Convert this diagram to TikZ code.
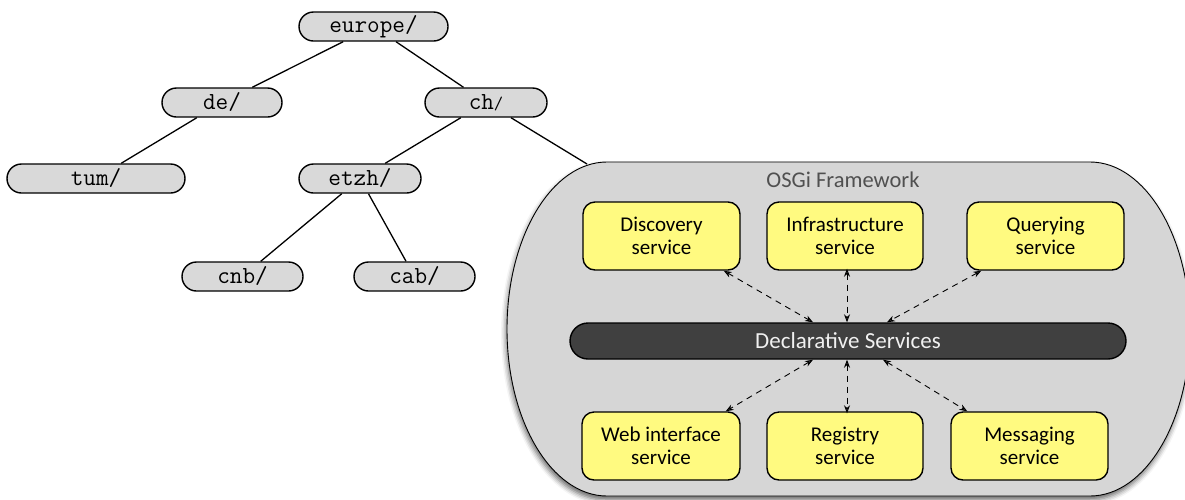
\documentclass[tikz,border=0pt]{standalone}
\usepackage{fontspec}
\setsansfont{Carlito}
\usetikzlibrary{shapes.misc,arrows.meta,shadows.blur}
\definecolor{treegray}{RGB}{217,217,217}
\definecolor{osgigray}{RGB}{214,214,214}
\definecolor{svcyellow}{RGB}{255,250,128}
\definecolor{bardark}{RGB}{64,64,64}
\definecolor{labelgray}{RGB}{80,80,80}
\tikzset{
  treenode/.style={rounded rectangle, draw=black, line width=1.4pt, fill=treegray,
    minimum height=29pt, inner sep=0pt, font=\fontsize{24.5}{25}\ttfamily},
  treeedge/.style={line width=1.3pt, draw=black},
  svcbox/.style={rectangle, rounded corners=12pt, draw=black, line width=1.4pt, fill=svcyellow,
    minimum width=156pt, minimum height=68pt, inner sep=0pt, align=center,
    font=\fontsize{21}{23.5}\sffamily},
  dsbar/.style={rounded rectangle, draw=black, line width=1.4pt, fill=bardark,
    minimum width=556pt, minimum height=36pt, inner sep=0pt, text=white!94!black,
    font=\fontsize{23}{24}\sffamily},
  dsarrow/.style={line width=0.9pt, dash pattern=on 6pt off 5pt,
    {Stealth[length=8pt,width=6pt]}-{Stealth[length=8pt,width=6pt]}},
}
\begin{document}
\begin{tikzpicture}[x=1pt,y=-1pt]
\useasboundingbox (0,0) rectangle (1185,499);
\clip (0,0) rectangle (1185,499);
% OSGi framework container
\path[fill=osgigray, draw=black, line width=0.9pt,
  blur shadow={shadow xshift=-1pt, shadow yshift=-4pt, shadow blur radius=5pt, shadow opacity=60}]
  (607,162) -- (1090,162)
  .. controls (1145.2,162) and (1190,236.8) .. (1190,329)
  .. controls (1190,421.2) and (1145.2,496) .. (1090,496)
  -- (607,496)
  .. controls (551.8,496) and (507,421.2) .. (507,329)
  .. controls (507,236.8) and (551.8,162) .. (607,162) -- cycle;
\coordinate (osgiedge) at (587,164);
\node[font=\fontsize{22.5}{24}\sffamily, text=labelgray] (osgilabel) at (843,180) {OSGi Framework};

% tree
\node[treenode, minimum width=149pt] (europe) at (373.5,26.5) {europe/};
\node[treenode, minimum width=120pt] (de) at (222,102.5) {de/};
\node[treenode, minimum width=122pt] (ch) at (486,102.5) {ch{\fontsize{18}{18}\selectfont/}};
\node[treenode, minimum width=178pt] (tum) at (96,178.5) {tum/};
\node[treenode, minimum width=122pt] (etzh) at (360,178.5) {etzh/};
\node[treenode, minimum width=121pt] (cnb) at (242.5,276.5) {cnb/};
\node[treenode, minimum width=121pt] (cab) at (414.5,276.5) {cab/};
\draw[treeedge] (europe) -- (de);
\draw[treeedge] (europe) -- (ch);
\draw[treeedge] (de) -- (tum);
\draw[treeedge] (ch) -- (etzh);
\draw[treeedge] (ch) -- (osgiedge);
\draw[treeedge] (etzh) -- (cnb);
\draw[treeedge] (etzh) -- (cab);

% services
\node[svcbox, minimum width=157pt] (disc) at (661.5,236) {Discovery\\service};
\node[svcbox] (infra) at (845,236) {Infrastructure\\service};
\node[svcbox, minimum width=157pt] (query) at (1045.5,236) {Querying\\service};
\node[svcbox, minimum width=158pt] (web) at (661,446) {Web interface\\service};
\node[svcbox] (reg) at (845,446) {Registry\\service};
\node[svcbox, minimum width=157pt] (msg) at (1029.5,446) {Messaging\\service};
\node[dsbar] (decl) at (848,341) {Declarative Services};

\draw[dsarrow] ([xshift=-17pt]disc.south east) -- ([xshift=-35pt]decl.north);
\draw[dsarrow] ([xshift=2pt,yshift=2pt]infra.south) -- ([xshift=-1pt]decl.north);
\draw[dsarrow] ([xshift=15pt]query.south west) -- ([xshift=39pt]decl.north);
\draw[dsarrow] ([xshift=-35pt]decl.south) -- ([xshift=-15pt]web.north east);
\draw[dsarrow] ([xshift=-1pt]decl.south) -- ([xshift=2pt,yshift=-2pt]reg.north);
\draw[dsarrow] ([xshift=35pt]decl.south) -- ([xshift=17pt]msg.north west);
\end{tikzpicture}
\end{document}
